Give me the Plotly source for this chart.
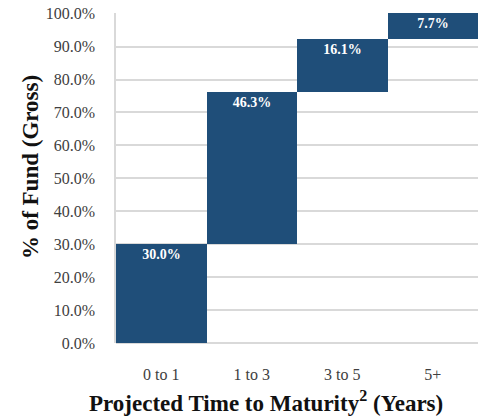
import plotly.graph_objects as go

categories = ["0 to 1", "1 to 3", "3 to 5", "5+"]
values = [30.0, 46.3, 16.1, 7.7]
labels = ["30.0%", "46.3%", "16.1%", "7.7%"]
tick_vals = [0, 10, 20, 30, 40, 50, 60, 70, 80, 90, 100]
tick_text = ["0.0%", "10.0%", "20.0%", "30.0%", "40.0%", "50.0%", "60.0%", "70.0%", "80.0%", "90.0%", "100.0%"]
x_title = "Projected Time to Maturity<sup>2</sup> (Years)"
y_title = "% of Fund (Gross)"

FONT = "Liberation Serif"
BAR = "#1f4e79"

fig = go.Figure(go.Waterfall(
    x=categories,
    y=values,
    measure=["relative"] * len(values),
    text=labels,
    textposition="inside",
    insidetextanchor="end",
    textfont=dict(family=FONT, size=14, color="white", weight="bold"),
    increasing=dict(marker=dict(color=BAR, line=dict(color=BAR, width=0))),
    connector=dict(visible=False),
    hoverinfo="skip",
))

fig.update_layout(
    width=487, height=417,
    margin=dict(l=116, r=9, t=13, b=74),
    paper_bgcolor="white", plot_bgcolor="white",
    waterfallgap=0,
    showlegend=False,
    font=dict(family=FONT, color="#333333", size=16),
    uniformtext=dict(mode="show", minsize=8),
    annotations=[
        dict(text=x_title, xref="paper", yref="paper", x=0.414, y=-0.176,
             xanchor="center", yanchor="middle", showarrow=False,
             font=dict(family=FONT, size=23, color="#111111", weight="bold")),
        dict(text=y_title, xref="paper", yref="paper", x=-0.2376, y=0.533,
             xanchor="center", yanchor="middle", showarrow=False, textangle=-90,
             font=dict(family=FONT, size=23, color="#111111", weight="bold")),
    ],
)
fig.update_xaxes(
    automargin=False,
    showgrid=False, showline=False, ticks="", ticklen=0,
    ticklabelstandoff=20,
    tickfont=dict(family=FONT, size=16, color="#404040"),
)
fig.update_yaxes(
    automargin=False,
    range=[0, 100.2], tickvals=tick_vals, ticktext=tick_text,
    showgrid=True, gridcolor="#d9d9d9", gridwidth=1.5,
    showline=True, linecolor="#d9d9d9", linewidth=1.5,
    zeroline=True, zerolinecolor="#d9d9d9", zerolinewidth=1.5,
    ticks="", ticklabelstandoff=16,
    tickfont=dict(family=FONT, size=16, color="#404040"),
)

fig.write_html(
    "out.html",
    config={"displayModeBar": False},
    post_script="document.body.style.margin='0';document.body.style.overflow='hidden';",
)
